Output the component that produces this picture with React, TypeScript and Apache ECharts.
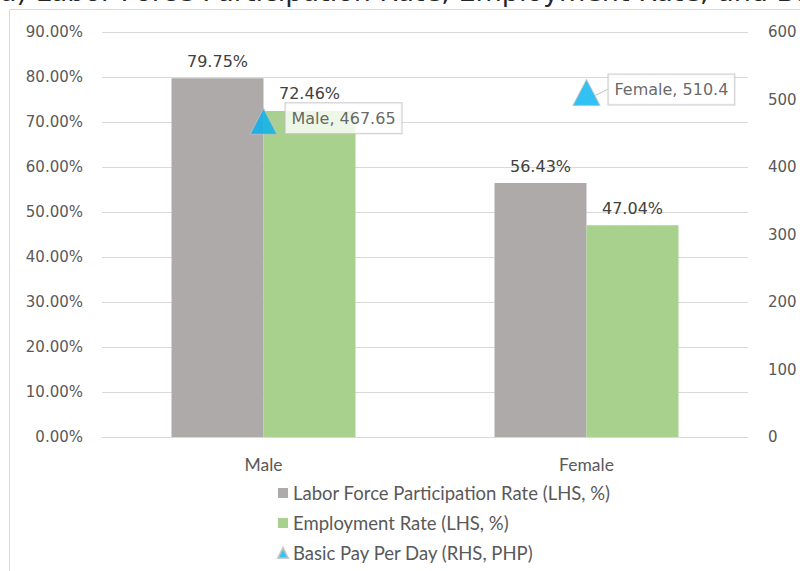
import React, { useEffect, useRef } from "react";
import * as echarts from "echarts";

const categories = ["Male", "Female"];
const lfpr = [79.75, 56.43];
const empRate = [72.46, 47.04];
const basicPay = [467.65, 510.4];
const leftTicks = { min: 0, max: 90, interval: 10 };
const rightTicks = { min: 0, max: 600, interval: 100 };
const titleText = "a) Labor Force Participation Rate, Employment Rate, and Basic Pay Per Day";

export default function App() {
  const ref = useRef<HTMLDivElement>(null);
  useEffect(() => {
    if (!ref.current) return;
    const chart = echarts.init(ref.current, null, { renderer: "svg" });
    const font = "Lato, 'Open Sans', sans-serif";
    const numFont = "'DejaVu Sans', sans-serif";
    const textColor = "#595959";
    chart.setOption({
      animation: false,
      textStyle: { fontFamily: font },
      graphic: [
        { type: "line", shape: { x1: 9.5, y1: 9.5, x2: 800, y2: 9.5 }, style: { stroke: "#d9d9d9", lineWidth: 1 } },
        { type: "line", shape: { x1: 9.5, y1: 9.5, x2: 9.5, y2: 571 }, style: { stroke: "#d9d9d9", lineWidth: 1 } },
        {
          type: "text",
          left: 0,
          top: -22,
          style: { text: titleText, fontSize: 27, fontFamily: numFont, fill: "#262626" },
        },
      ],
      grid: { left: 102, right: 52, top: 32, bottom: 134 },
      legend: {
        orient: "vertical",
        left: 277,
        top: 483,
        padding: 0,
        itemWidth: 10,
        itemHeight: 10,
        itemGap: 10,
        textStyle: { fontSize: 18.5, color: textColor, fontFamily: font, lineHeight: 20 },
        data: [
          { name: "Labor Force Participation Rate (LHS, %)", icon: "rect" },
          { name: "Employment Rate (LHS, %)", icon: "rect" },
          { name: "Basic Pay Per Day (RHS, PHP)", icon: "triangle" },
        ],
      },
      xAxis: {
        type: "category",
        data: categories,
        axisLine: { lineStyle: { color: "#d9d9d9", width: 1 } },
        axisTick: { show: false },
        axisLabel: { color: textColor, fontSize: 17.5, margin: 18, fontFamily: font },
      },
      yAxis: [
        {
          type: "value",
          ...leftTicks,
          axisLabel: { color: textColor, fontSize: 15, margin: 19, fontFamily: numFont, formatter: (v: number) => v.toFixed(2) + "%" },
          splitLine: { lineStyle: { color: "#d9d9d9", width: 1 } },
          axisLine: { show: false },
          axisTick: { show: false },
        },
        {
          type: "value",
          ...rightTicks,
          axisLabel: { color: textColor, fontSize: 15, margin: 20, fontFamily: numFont },
          splitLine: { show: false },
          axisLine: { show: false },
          axisTick: { show: false },
        },
      ],
      series: [
        {
          name: "Labor Force Participation Rate (LHS, %)",
          type: "bar",
          data: lfpr,
          barWidth: 92,
          barGap: "0%",
          itemStyle: { color: "#AEAAAA" },
          label: { show: true, position: "top", distance: 9, color: "#404040", fontSize: 16, fontFamily: numFont, formatter: (p: any) => p.value.toFixed(2) + "%" },
        },
        {
          name: "Employment Rate (LHS, %)",
          type: "bar",
          data: empRate,
          barWidth: 92,
          barGap: "0%",
          itemStyle: { color: "#A9D18E" },
          label: { show: true, position: "top", distance: 9, color: "#404040", fontSize: 16, fontFamily: numFont, formatter: (p: any) => p.value.toFixed(2) + "%" },
        },
        {
          name: "Basic Pay Per Day (RHS, PHP)",
          type: "scatter",
          yAxisIndex: 1,
          data: basicPay,
          symbol: "triangle",
          symbolSize: [27, 26],
          itemStyle: { color: "#00B0F0", borderColor: "#bfbfbf", borderWidth: 1 },
          label: {
            show: true,
            position: "right",
            distance: 8,
            formatter: (p: any) => `${p.name}, ${p.value}`,
            color: "#404040",
            fontSize: 16,
            fontFamily: numFont,
            backgroundColor: "#ffffff",
            borderColor: "#bfbfbf",
            borderWidth: 1,
            padding: [7, 6, 7, 6],
          },
          labelLine: { show: true, lineStyle: { color: "#bfbfbf", width: 1 } },
          labelLayout: { dy: -3 },
        },
      ],
    });
    return () => chart.dispose();
  }, []);
  return <div ref={ref} style={{ position: "absolute", left: 0, top: 0, width: 800, height: 571 }} />;
}
